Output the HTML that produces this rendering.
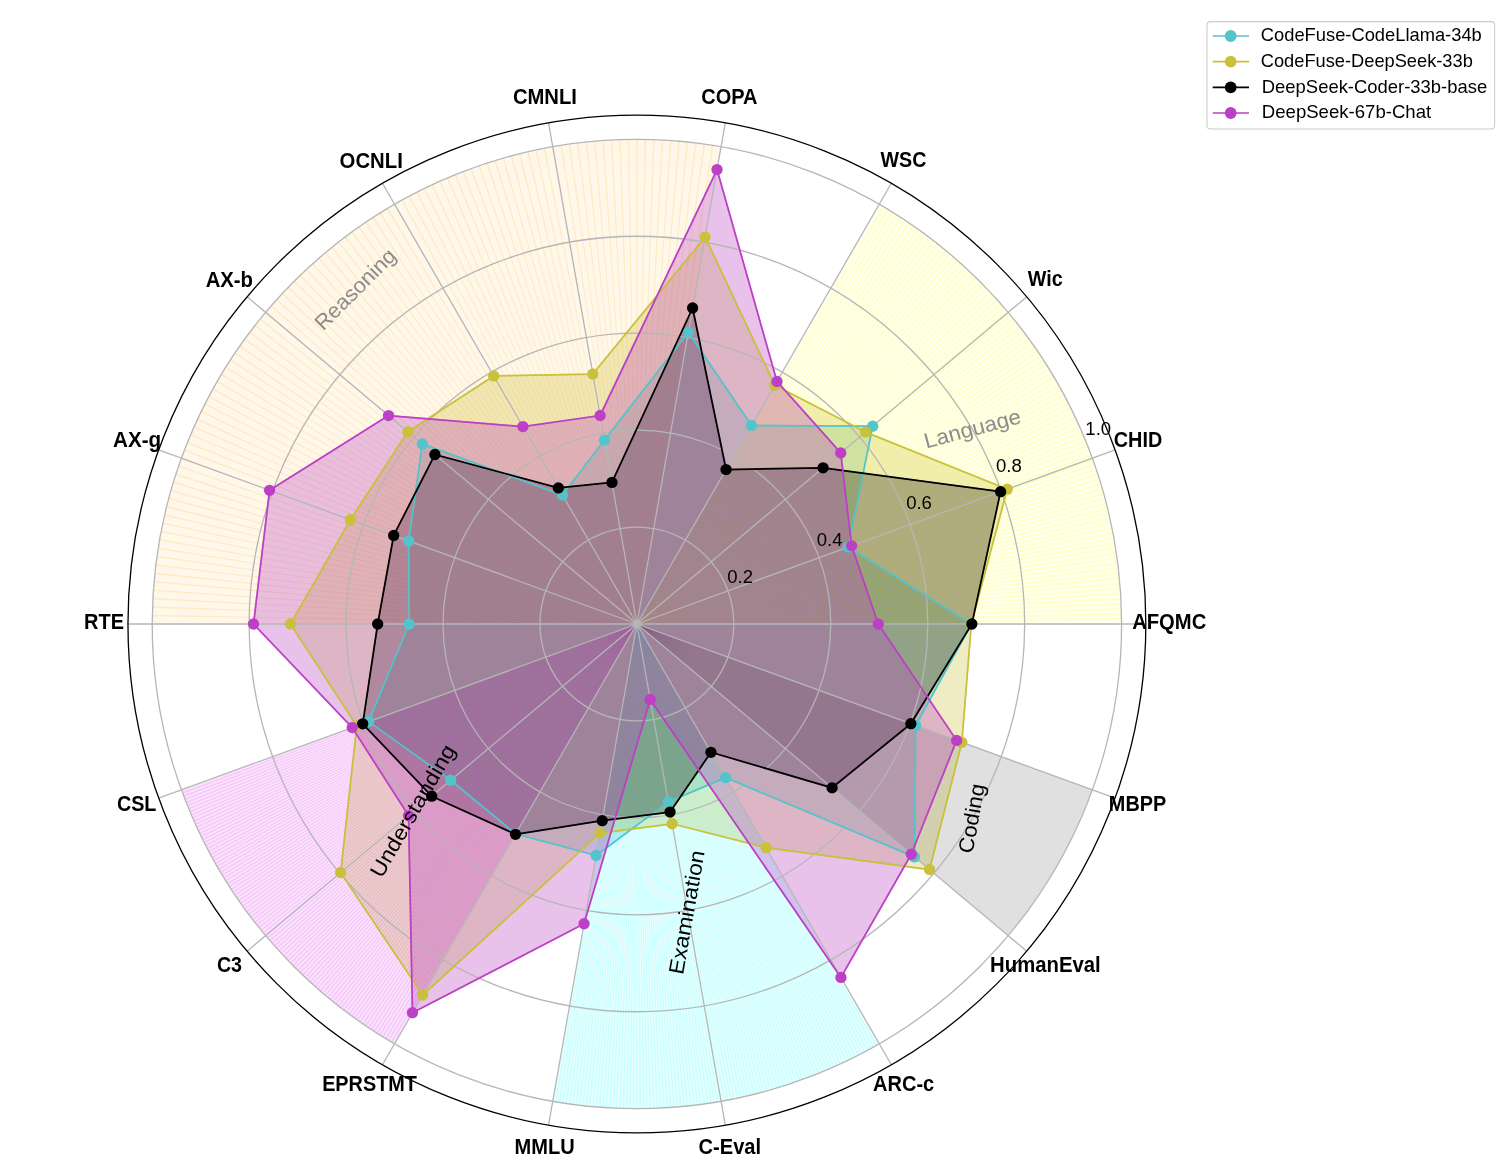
<!DOCTYPE html>
<html><head><meta charset="utf-8"><title>Radar chart</title>
<style>
html,body{margin:0;padding:0;background:#fff;}
body{width:1500px;height:1176px;overflow:hidden;font-family:"Liberation Sans",sans-serif;}
svg{display:block;will-change:transform;}
text{font-family:"Liberation Sans",sans-serif;}
.b{font-weight:bold;fill:#000;}
.r{font-weight:normal;}
</style></head><body>
<svg width="1500" height="1176" viewBox="0 0 1500 1176">
<rect width="1500" height="1176" fill="#fff"/>
<polygon points="971.34,624 848.24,547.08 872.68,426.16 751.53,425.45 688.33,332.35 604.47,440.08 562.47,495.09 422.29,443.92 408.71,540.95 409.09,624 368.63,721.64 450.69,780.25 515.72,833.88 596.08,855.51 668.26,801.86 725.6,777.63 914.45,856.89 915.65,725.46" fill="#54c4cb" fill-opacity="0.3" stroke="#54c4cb" stroke-opacity="0.3" stroke-width="1.4"/>
<polygon points="971.34,624 1007.2,489.22 865.62,432.08 774.8,385.16 705.13,237.07 592.82,374.02 493.67,375.92 407.81,431.77 350.41,519.73 290.48,624 356.79,725.95 340.6,872.62 422.66,995.07 600.03,833.07 672.12,823.77 766.07,847.73 929.49,869.51 961.88,742.28" fill="#c9c13c" fill-opacity="0.3" stroke="#c9c13c" stroke-opacity="0.3" stroke-width="1.4"/>
<defs>
<radialGradient id="g0" gradientUnits="userSpaceOnUse" cx="636.9" cy="624" r="60"><stop offset="0" stop-color="#ffff00" stop-opacity="0.54"/><stop offset="0.08" stop-color="#ffff00" stop-opacity="0.27"/><stop offset="0.17" stop-color="#ffff00" stop-opacity="0.13"/><stop offset="0.33" stop-color="#ffff00" stop-opacity="0.07"/><stop offset="0.67" stop-color="#ffff00" stop-opacity="0.02"/><stop offset="1" stop-color="#ffff00" stop-opacity="0"/></radialGradient>
<radialGradient id="g1" gradientUnits="userSpaceOnUse" cx="636.9" cy="624" r="60"><stop offset="0" stop-color="#ffa500" stop-opacity="0.27"/><stop offset="0.08" stop-color="#ffa500" stop-opacity="0.14"/><stop offset="0.17" stop-color="#ffa500" stop-opacity="0.07"/><stop offset="0.33" stop-color="#ffa500" stop-opacity="0.03"/><stop offset="0.67" stop-color="#ffa500" stop-opacity="0.01"/><stop offset="1" stop-color="#ffa500" stop-opacity="0"/></radialGradient>
<radialGradient id="g2" gradientUnits="userSpaceOnUse" cx="636.9" cy="624" r="60"><stop offset="0" stop-color="#d800ea" stop-opacity="0.9"/><stop offset="0.08" stop-color="#d800ea" stop-opacity="0.45"/><stop offset="0.17" stop-color="#d800ea" stop-opacity="0.22"/><stop offset="0.33" stop-color="#d800ea" stop-opacity="0.11"/><stop offset="0.67" stop-color="#d800ea" stop-opacity="0.04"/><stop offset="1" stop-color="#d800ea" stop-opacity="0"/></radialGradient>
<radialGradient id="g3" gradientUnits="userSpaceOnUse" cx="636.9" cy="624" r="60"><stop offset="0" stop-color="#00ffff" stop-opacity="0.9"/><stop offset="0.08" stop-color="#00ffff" stop-opacity="0.45"/><stop offset="0.17" stop-color="#00ffff" stop-opacity="0.22"/><stop offset="0.33" stop-color="#00ffff" stop-opacity="0.11"/><stop offset="0.67" stop-color="#00ffff" stop-opacity="0.04"/><stop offset="1" stop-color="#00ffff" stop-opacity="0"/></radialGradient>
<radialGradient id="g4" gradientUnits="userSpaceOnUse" cx="636.9" cy="624" r="60"><stop offset="0" stop-color="#3c3c3c" stop-opacity="0.9"/><stop offset="0.08" stop-color="#3c3c3c" stop-opacity="0.72"/><stop offset="0.17" stop-color="#3c3c3c" stop-opacity="0.35"/><stop offset="0.33" stop-color="#3c3c3c" stop-opacity="0.18"/><stop offset="0.67" stop-color="#3c3c3c" stop-opacity="0.06"/><stop offset="1" stop-color="#3c3c3c" stop-opacity="0"/></radialGradient>
</defs>
<path d="M636.9 624L1121.6 624A484.7 484.7 0 0 0 879.25 204.24Z" fill="#ffff00" fill-opacity="0.07"/>
<path d="M636.9 624L1121.58 619.99A484.7 484.7 0 0 0 1121.56 617.86ZM636.9 624L1121.51 614.91A484.7 484.7 0 0 0 1121.47 612.78ZM636.9 624L1121.39 609.84A484.7 484.7 0 0 0 1121.33 607.71ZM636.9 624L1121.22 604.77A484.7 484.7 0 0 0 1121.13 602.64ZM636.9 624L1120.99 599.7A484.7 484.7 0 0 0 1120.88 597.57ZM636.9 624L1120.71 594.63A484.7 484.7 0 0 0 1120.58 592.5ZM636.9 624L1120.38 589.56A484.7 484.7 0 0 0 1120.22 587.44ZM636.9 624L1119.99 584.5A484.7 484.7 0 0 0 1119.81 582.38ZM636.9 624L1119.55 579.45A484.7 484.7 0 0 0 1119.35 577.32ZM636.9 624L1119.06 574.4A484.7 484.7 0 0 0 1118.83 572.28ZM636.9 624L1118.51 569.35A484.7 484.7 0 0 0 1118.26 567.23ZM636.9 624L1117.91 564.31A484.7 484.7 0 0 0 1117.64 562.19ZM636.9 624L1117.26 559.27A484.7 484.7 0 0 0 1116.97 557.16ZM636.9 624L1116.55 554.25A484.7 484.7 0 0 0 1116.24 552.14ZM636.9 624L1115.8 549.23A484.7 484.7 0 0 0 1115.46 547.12ZM636.9 624L1114.99 544.22A484.7 484.7 0 0 0 1114.63 542.12ZM636.9 624L1114.13 539.22A484.7 484.7 0 0 0 1113.75 537.12ZM636.9 624L1113.21 534.22A484.7 484.7 0 0 0 1112.81 532.13ZM636.9 624L1112.25 529.24A484.7 484.7 0 0 0 1111.83 527.15ZM636.9 624L1111.23 524.27A484.7 484.7 0 0 0 1110.79 522.18ZM636.9 624L1110.16 519.31A484.7 484.7 0 0 0 1109.69 517.23ZM636.9 624L1109.04 514.36A484.7 484.7 0 0 0 1108.55 512.28ZM636.9 624L1107.86 509.42A484.7 484.7 0 0 0 1107.35 507.35ZM636.9 624L1106.64 504.49A484.7 484.7 0 0 0 1106.11 502.43ZM636.9 624L1105.36 499.58A484.7 484.7 0 0 0 1104.81 497.52ZM636.9 624L1104.03 494.68A484.7 484.7 0 0 0 1103.46 492.63ZM636.9 624L1102.65 489.8A484.7 484.7 0 0 0 1102.06 487.75ZM636.9 624L1101.22 484.93A484.7 484.7 0 0 0 1100.6 482.89ZM636.9 624L1099.74 480.07A484.7 484.7 0 0 0 1099.1 478.04ZM636.9 624L1098.21 475.23A484.7 484.7 0 0 0 1097.55 473.21ZM636.9 624L1096.62 470.41A484.7 484.7 0 0 0 1095.94 468.39ZM636.9 624L1094.99 465.61A484.7 484.7 0 0 0 1094.29 463.59ZM636.9 624L1093.3 460.82A484.7 484.7 0 0 0 1092.58 458.81ZM636.9 624L1091.57 456.05A484.7 484.7 0 0 0 1090.83 454.05ZM636.9 624L1089.79 451.29A484.7 484.7 0 0 0 1089.02 449.3ZM636.9 624L1087.95 446.56A484.7 484.7 0 0 0 1087.17 444.58ZM636.9 624L1086.07 441.85A484.7 484.7 0 0 0 1085.27 439.87ZM636.9 624L1084.14 437.15A484.7 484.7 0 0 0 1083.31 435.19ZM636.9 624L1082.16 432.48A484.7 484.7 0 0 0 1081.31 430.52ZM636.9 624L1080.13 427.83A484.7 484.7 0 0 0 1079.26 425.88ZM636.9 624L1078.05 423.2A484.7 484.7 0 0 0 1077.16 421.26ZM636.9 624L1075.92 418.59A484.7 484.7 0 0 0 1075.01 416.66ZM636.9 624L1073.75 414A484.7 484.7 0 0 0 1072.82 412.08ZM636.9 624L1071.52 409.44A484.7 484.7 0 0 0 1070.58 407.53ZM636.9 624L1069.25 404.9A484.7 484.7 0 0 0 1068.29 403ZM636.9 624L1066.94 400.39A484.7 484.7 0 0 0 1065.95 398.5ZM636.9 624L1064.57 395.89A484.7 484.7 0 0 0 1063.56 394.02ZM636.9 624L1062.16 391.43A484.7 484.7 0 0 0 1061.13 389.56ZM636.9 624L1059.7 386.99A484.7 484.7 0 0 0 1058.65 385.13ZM636.9 624L1057.19 382.57A484.7 484.7 0 0 0 1056.13 380.73ZM636.9 624L1054.64 378.19A484.7 484.7 0 0 0 1053.56 376.35ZM636.9 624L1052.05 373.82A484.7 484.7 0 0 0 1050.94 372ZM636.9 624L1049.4 369.49A484.7 484.7 0 0 0 1048.28 367.68ZM636.9 624L1046.72 365.19A484.7 484.7 0 0 0 1045.57 363.39ZM636.9 624L1043.98 360.91A484.7 484.7 0 0 0 1042.82 359.12ZM636.9 624L1041.21 356.66A484.7 484.7 0 0 0 1040.03 354.88ZM636.9 624L1038.38 352.44A484.7 484.7 0 0 0 1037.19 350.68ZM636.9 624L1035.52 348.25A484.7 484.7 0 0 0 1034.3 346.5ZM636.9 624L1032.61 344.09A484.7 484.7 0 0 0 1031.37 342.35ZM636.9 624L1029.66 339.96A484.7 484.7 0 0 0 1028.4 338.24ZM636.9 624L1026.66 335.87A484.7 484.7 0 0 0 1025.39 334.15ZM636.9 624L1023.62 331.8A484.7 484.7 0 0 0 1022.33 330.1ZM636.9 624L1020.54 327.77A484.7 484.7 0 0 0 1019.23 326.08ZM636.9 624L1017.42 323.77A484.7 484.7 0 0 0 1016.09 322.1ZM636.9 624L1014.25 319.8A484.7 484.7 0 0 0 1012.91 318.14ZM636.9 624L1011.05 315.86A484.7 484.7 0 0 0 1009.69 314.22ZM636.9 624L1007.8 311.96A484.7 484.7 0 0 0 1006.42 310.33ZM636.9 624L1004.51 308.09A484.7 484.7 0 0 0 1003.12 306.48ZM636.9 624L1001.18 304.26A484.7 484.7 0 0 0 999.77 302.66ZM636.9 624L997.81 300.47A484.7 484.7 0 0 0 996.39 298.88ZM636.9 624L994.41 296.7A484.7 484.7 0 0 0 992.96 295.13ZM636.9 624L990.96 292.98A484.7 484.7 0 0 0 989.5 291.42ZM636.9 624L987.47 289.29A484.7 484.7 0 0 0 986 287.75ZM636.9 624L983.95 285.64A484.7 484.7 0 0 0 982.46 284.11ZM636.9 624L980.39 282.02A484.7 484.7 0 0 0 978.88 280.51ZM636.9 624L976.79 278.44A484.7 484.7 0 0 0 975.26 276.95ZM636.9 624L973.15 274.9A484.7 484.7 0 0 0 971.61 273.43ZM636.9 624L969.48 271.4A484.7 484.7 0 0 0 967.92 269.94ZM636.9 624L965.77 267.94A484.7 484.7 0 0 0 964.2 266.49ZM636.9 624L962.02 264.51A484.7 484.7 0 0 0 960.43 263.09ZM636.9 624L958.24 261.13A484.7 484.7 0 0 0 956.64 259.72ZM636.9 624L954.42 257.78A484.7 484.7 0 0 0 952.81 256.39ZM636.9 624L950.57 254.48A484.7 484.7 0 0 0 948.94 253.1ZM636.9 624L946.68 251.21A484.7 484.7 0 0 0 945.04 249.85ZM636.9 624L942.76 247.99A484.7 484.7 0 0 0 941.1 246.65ZM636.9 624L938.8 244.81A484.7 484.7 0 0 0 937.13 243.48ZM636.9 624L934.82 241.67A484.7 484.7 0 0 0 933.13 240.36ZM636.9 624L930.8 238.57A484.7 484.7 0 0 0 929.1 237.28ZM636.9 624L926.75 235.51A484.7 484.7 0 0 0 925.03 234.24ZM636.9 624L922.66 232.5A484.7 484.7 0 0 0 920.94 231.24ZM636.9 624L918.55 229.53A484.7 484.7 0 0 0 916.81 228.29ZM636.9 624L914.4 226.6A484.7 484.7 0 0 0 912.65 225.38ZM636.9 624L910.22 223.71A484.7 484.7 0 0 0 908.46 222.52ZM636.9 624L906.02 220.87A484.7 484.7 0 0 0 904.24 219.69ZM636.9 624L901.78 218.08A484.7 484.7 0 0 0 899.99 216.92ZM636.9 624L897.51 215.33A484.7 484.7 0 0 0 895.71 214.18ZM636.9 624L893.22 212.62A484.7 484.7 0 0 0 891.41 211.5ZM636.9 624L888.9 209.96A484.7 484.7 0 0 0 887.08 208.85ZM636.9 624L884.55 207.34A484.7 484.7 0 0 0 882.71 206.26Z" fill="#ffff00" fill-opacity="0.15"/>
<path d="M636.9 624L696.9 624A60 60 0 0 0 666.9 572.04Z" fill="url(#g0)"/>
<path d="M636.9 624L721.07 146.66A484.7 484.7 0 0 0 152.2 624Z" fill="#ffa500" fill-opacity="0.083"/>
<path d="M636.9 624L713.52 145.39A484.7 484.7 0 0 0 711.93 145.14ZM636.9 624L705.15 144.13A484.7 484.7 0 0 0 703.56 143.91ZM636.9 624L696.77 143.01A484.7 484.7 0 0 0 695.17 142.82ZM636.9 624L688.36 142.04A484.7 484.7 0 0 0 686.77 141.87ZM636.9 624L679.94 141.22A484.7 484.7 0 0 0 678.34 141.08ZM636.9 624L671.51 140.54A484.7 484.7 0 0 0 669.91 140.43ZM636.9 624L663.07 140.01A484.7 484.7 0 0 0 661.46 139.92ZM636.9 624L654.62 139.62A484.7 484.7 0 0 0 653.01 139.57ZM636.9 624L646.16 139.39A484.7 484.7 0 0 0 644.56 139.36ZM636.9 624L637.7 139.3A484.7 484.7 0 0 0 636.1 139.3ZM636.9 624L629.24 139.36A484.7 484.7 0 0 0 627.64 139.39ZM636.9 624L620.79 139.57A484.7 484.7 0 0 0 619.18 139.62ZM636.9 624L612.34 139.92A484.7 484.7 0 0 0 610.73 140.01ZM636.9 624L603.89 140.43A484.7 484.7 0 0 0 602.29 140.54ZM636.9 624L595.46 141.08A484.7 484.7 0 0 0 593.86 141.22ZM636.9 624L587.03 141.87A484.7 484.7 0 0 0 585.44 142.04ZM636.9 624L578.63 142.82A484.7 484.7 0 0 0 577.03 143.01ZM636.9 624L570.24 143.91A484.7 484.7 0 0 0 568.65 144.13ZM636.9 624L561.87 145.14A484.7 484.7 0 0 0 560.28 145.39ZM636.9 624L553.52 146.52A484.7 484.7 0 0 0 551.94 146.8ZM636.9 624L545.2 148.05A484.7 484.7 0 0 0 543.63 148.36ZM636.9 624L536.91 149.73A484.7 484.7 0 0 0 535.34 150.06ZM636.9 624L528.65 151.54A484.7 484.7 0 0 0 527.08 151.9ZM636.9 624L520.42 153.5A484.7 484.7 0 0 0 518.86 153.89ZM636.9 624L512.23 155.61A484.7 484.7 0 0 0 510.67 156.02ZM636.9 624L504.07 157.86A484.7 484.7 0 0 0 502.53 158.3ZM636.9 624L495.96 160.24A484.7 484.7 0 0 0 494.42 160.71ZM636.9 624L487.88 162.78A484.7 484.7 0 0 0 486.36 163.27ZM636.9 624L479.86 165.45A484.7 484.7 0 0 0 478.34 165.97ZM636.9 624L471.88 168.26A484.7 484.7 0 0 0 470.37 168.81ZM636.9 624L463.95 171.21A484.7 484.7 0 0 0 462.45 171.78ZM636.9 624L456.07 174.29A484.7 484.7 0 0 0 454.58 174.9ZM636.9 624L448.25 177.52A484.7 484.7 0 0 0 446.77 178.15ZM636.9 624L440.49 180.88A484.7 484.7 0 0 0 439.02 181.53ZM636.9 624L432.79 184.37A484.7 484.7 0 0 0 431.33 185.05ZM636.9 624L425.14 188A484.7 484.7 0 0 0 423.7 188.71ZM636.9 624L417.57 191.76A484.7 484.7 0 0 0 416.14 192.49ZM636.9 624L410.06 195.66A484.7 484.7 0 0 0 408.64 196.41ZM636.9 624L402.62 199.68A484.7 484.7 0 0 0 401.21 200.46ZM636.9 624L395.25 203.84A484.7 484.7 0 0 0 393.85 204.64ZM636.9 624L387.95 208.12A484.7 484.7 0 0 0 386.57 208.95ZM636.9 624L380.73 212.53A484.7 484.7 0 0 0 379.37 213.38ZM636.9 624L373.59 217.06A484.7 484.7 0 0 0 372.24 217.93ZM636.9 624L366.53 221.72A484.7 484.7 0 0 0 365.19 222.62ZM636.9 624L359.55 226.5A484.7 484.7 0 0 0 358.23 227.42ZM636.9 624L352.65 231.4A484.7 484.7 0 0 0 351.35 232.34ZM636.9 624L345.84 236.42A484.7 484.7 0 0 0 344.56 237.39ZM636.9 624L339.12 241.56A484.7 484.7 0 0 0 337.86 242.55ZM636.9 624L332.49 246.81A484.7 484.7 0 0 0 331.24 247.82ZM636.9 624L325.96 252.18A484.7 484.7 0 0 0 324.73 253.22ZM636.9 624L319.52 257.67A484.7 484.7 0 0 0 318.3 258.72ZM636.9 624L313.17 263.26A484.7 484.7 0 0 0 311.98 264.34ZM636.9 624L306.92 268.97A484.7 484.7 0 0 0 305.75 270.06ZM636.9 624L300.78 274.78A484.7 484.7 0 0 0 299.62 275.89ZM636.9 624L294.73 280.7A484.7 484.7 0 0 0 293.6 281.83ZM636.9 624L288.79 286.72A484.7 484.7 0 0 0 287.68 287.88ZM636.9 624L282.96 292.85A484.7 484.7 0 0 0 281.87 294.02ZM636.9 624L277.24 299.08A484.7 484.7 0 0 0 276.16 300.27ZM636.9 624L271.62 305.4A484.7 484.7 0 0 0 270.57 306.62ZM636.9 624L266.12 311.83A484.7 484.7 0 0 0 265.08 313.06ZM636.9 624L260.72 318.34A484.7 484.7 0 0 0 259.71 319.59ZM636.9 624L255.45 324.96A484.7 484.7 0 0 0 254.46 326.22ZM636.9 624L250.29 331.66A484.7 484.7 0 0 0 249.32 332.94ZM636.9 624L245.24 338.45A484.7 484.7 0 0 0 244.3 339.75ZM636.9 624L240.32 345.33A484.7 484.7 0 0 0 239.4 346.65ZM636.9 624L235.52 352.29A484.7 484.7 0 0 0 234.62 353.63ZM636.9 624L230.83 359.34A484.7 484.7 0 0 0 229.96 360.69ZM636.9 624L226.28 366.47A484.7 484.7 0 0 0 225.43 367.83ZM636.9 624L221.85 373.67A484.7 484.7 0 0 0 221.02 375.05ZM636.9 624L217.54 380.95A484.7 484.7 0 0 0 216.74 382.35ZM636.9 624L213.36 388.31A484.7 484.7 0 0 0 212.58 389.72ZM636.9 624L209.31 395.74A484.7 484.7 0 0 0 208.56 397.16ZM636.9 624L205.39 403.24A484.7 484.7 0 0 0 204.66 404.67ZM636.9 624L201.61 410.8A484.7 484.7 0 0 0 200.9 412.24ZM636.9 624L197.95 418.43A484.7 484.7 0 0 0 197.27 419.89ZM636.9 624L194.43 426.12A484.7 484.7 0 0 0 193.78 427.59ZM636.9 624L191.05 433.87A484.7 484.7 0 0 0 190.42 435.35ZM636.9 624L187.8 441.68A484.7 484.7 0 0 0 187.19 443.17ZM636.9 624L184.68 449.55A484.7 484.7 0 0 0 184.11 451.05ZM636.9 624L181.71 457.47A484.7 484.7 0 0 0 181.16 458.98ZM636.9 624L178.87 465.44A484.7 484.7 0 0 0 178.35 466.96ZM636.9 624L176.17 473.46A484.7 484.7 0 0 0 175.68 474.98ZM636.9 624L173.61 481.52A484.7 484.7 0 0 0 173.14 483.06ZM636.9 624L171.2 489.63A484.7 484.7 0 0 0 170.76 491.17ZM636.9 624L168.92 497.77A484.7 484.7 0 0 0 168.51 499.33ZM636.9 624L166.79 505.96A484.7 484.7 0 0 0 166.4 507.52ZM636.9 624L164.8 514.18A484.7 484.7 0 0 0 164.44 515.75ZM636.9 624L162.96 522.44A484.7 484.7 0 0 0 162.63 524.01ZM636.9 624L161.26 530.73A484.7 484.7 0 0 0 160.95 532.3ZM636.9 624L159.7 539.04A484.7 484.7 0 0 0 159.42 540.62ZM636.9 624L158.29 547.38A484.7 484.7 0 0 0 158.04 548.97ZM636.9 624L157.03 555.75A484.7 484.7 0 0 0 156.81 557.34ZM636.9 624L155.91 564.13A484.7 484.7 0 0 0 155.72 565.73ZM636.9 624L154.94 572.54A484.7 484.7 0 0 0 154.77 574.13ZM636.9 624L154.12 580.96A484.7 484.7 0 0 0 153.98 582.56ZM636.9 624L153.44 589.39A484.7 484.7 0 0 0 153.33 590.99ZM636.9 624L152.91 597.83A484.7 484.7 0 0 0 152.82 599.44ZM636.9 624L152.52 606.28A484.7 484.7 0 0 0 152.47 607.89ZM636.9 624L152.29 614.74A484.7 484.7 0 0 0 152.26 616.34Z" fill="#ffa500" fill-opacity="0.16"/>
<path d="M636.9 624L647.32 564.91A60 60 0 0 0 576.9 624Z" fill="url(#g1)"/>
<path d="M636.9 624L181.43 789.78A484.7 484.7 0 0 0 394.55 1043.76Z" fill="#d800ea" fill-opacity="0.105"/>
<path d="M636.9 624L182.31 792.16A484.7 484.7 0 0 0 182.89 793.75ZM636.9 624L183.49 795.33A484.7 484.7 0 0 0 184.09 796.91ZM636.9 624L184.7 798.49A484.7 484.7 0 0 0 185.31 800.07ZM636.9 624L185.93 801.64A484.7 484.7 0 0 0 186.55 803.22ZM636.9 624L187.18 804.79A484.7 484.7 0 0 0 187.81 806.36ZM636.9 624L188.45 807.92A484.7 484.7 0 0 0 189.1 809.49ZM636.9 624L189.75 811.05A484.7 484.7 0 0 0 190.4 812.61ZM636.9 624L191.06 814.17A484.7 484.7 0 0 0 191.73 815.72ZM636.9 624L192.4 817.27A484.7 484.7 0 0 0 193.08 818.82ZM636.9 624L193.76 820.37A484.7 484.7 0 0 0 194.45 821.92ZM636.9 624L195.14 823.46A484.7 484.7 0 0 0 195.84 825ZM636.9 624L196.55 826.54A484.7 484.7 0 0 0 197.26 828.08ZM636.9 624L197.97 829.61A484.7 484.7 0 0 0 198.69 831.14ZM636.9 624L199.42 832.67A484.7 484.7 0 0 0 200.15 834.19ZM636.9 624L200.88 835.72A484.7 484.7 0 0 0 201.63 837.24ZM636.9 624L202.37 838.76A484.7 484.7 0 0 0 203.13 840.27ZM636.9 624L203.88 841.78A484.7 484.7 0 0 0 204.65 843.3ZM636.9 624L205.41 844.8A484.7 484.7 0 0 0 206.19 846.31ZM636.9 624L206.97 847.81A484.7 484.7 0 0 0 207.75 849.31ZM636.9 624L208.54 850.81A484.7 484.7 0 0 0 209.33 852.3ZM636.9 624L210.13 853.79A484.7 484.7 0 0 0 210.94 855.28ZM636.9 624L211.75 856.76A484.7 484.7 0 0 0 212.56 858.25ZM636.9 624L213.38 859.73A484.7 484.7 0 0 0 214.21 861.2ZM636.9 624L215.04 862.68A484.7 484.7 0 0 0 215.87 864.15ZM636.9 624L216.72 865.62A484.7 484.7 0 0 0 217.56 867.08ZM636.9 624L218.41 868.54A484.7 484.7 0 0 0 219.27 870ZM636.9 624L220.13 871.46A484.7 484.7 0 0 0 221 872.91ZM636.9 624L221.87 874.36A484.7 484.7 0 0 0 222.74 875.81ZM636.9 624L223.63 877.26A484.7 484.7 0 0 0 224.51 878.7ZM636.9 624L225.4 880.13A484.7 484.7 0 0 0 226.3 881.57ZM636.9 624L227.2 883A484.7 484.7 0 0 0 228.11 884.43ZM636.9 624L229.02 885.85A484.7 484.7 0 0 0 229.94 887.28ZM636.9 624L230.86 888.7A484.7 484.7 0 0 0 231.78 890.11ZM636.9 624L232.72 891.52A484.7 484.7 0 0 0 233.65 892.93ZM636.9 624L234.59 894.34A484.7 484.7 0 0 0 235.54 895.74ZM636.9 624L236.49 897.14A484.7 484.7 0 0 0 237.45 898.54ZM636.9 624L238.41 899.93A484.7 484.7 0 0 0 239.37 901.32ZM636.9 624L240.34 902.71A484.7 484.7 0 0 0 241.32 904.09ZM636.9 624L242.3 905.47A484.7 484.7 0 0 0 243.28 906.84ZM636.9 624L244.27 908.21A484.7 484.7 0 0 0 245.27 909.58ZM636.9 624L246.27 910.95A484.7 484.7 0 0 0 247.27 912.31ZM636.9 624L248.28 913.67A484.7 484.7 0 0 0 249.29 915.02ZM636.9 624L250.31 916.37A484.7 484.7 0 0 0 251.33 917.72ZM636.9 624L252.36 919.07A484.7 484.7 0 0 0 253.39 920.41ZM636.9 624L254.43 921.74A484.7 484.7 0 0 0 255.47 923.08ZM636.9 624L256.52 924.41A484.7 484.7 0 0 0 257.57 925.73ZM636.9 624L258.63 927.06A484.7 484.7 0 0 0 259.69 928.37ZM636.9 624L260.75 929.69A484.7 484.7 0 0 0 261.82 931ZM636.9 624L262.89 932.31A484.7 484.7 0 0 0 263.97 933.61ZM636.9 624L265.06 934.91A484.7 484.7 0 0 0 266.14 936.21ZM636.9 624L267.23 937.5A484.7 484.7 0 0 0 268.33 938.79ZM636.9 624L269.43 940.07A484.7 484.7 0 0 0 270.54 941.35ZM636.9 624L271.65 942.63A484.7 484.7 0 0 0 272.76 943.9ZM636.9 624L273.88 945.17A484.7 484.7 0 0 0 275 946.44ZM636.9 624L276.13 947.7A484.7 484.7 0 0 0 277.26 948.96ZM636.9 624L278.4 950.21A484.7 484.7 0 0 0 279.54 951.46ZM636.9 624L280.69 952.7A484.7 484.7 0 0 0 281.84 953.95ZM636.9 624L282.99 955.18A484.7 484.7 0 0 0 284.15 956.42ZM636.9 624L285.31 957.65A484.7 484.7 0 0 0 286.48 958.87ZM636.9 624L287.65 960.09A484.7 484.7 0 0 0 288.82 961.31ZM636.9 624L290 962.52A484.7 484.7 0 0 0 291.19 963.73ZM636.9 624L292.38 964.94A484.7 484.7 0 0 0 293.57 966.14ZM636.9 624L294.76 967.33A484.7 484.7 0 0 0 295.96 968.52ZM636.9 624L297.17 969.71A484.7 484.7 0 0 0 298.38 970.9ZM636.9 624L299.59 972.08A484.7 484.7 0 0 0 300.81 973.25ZM636.9 624L302.03 974.42A484.7 484.7 0 0 0 303.25 975.59ZM636.9 624L304.48 976.75A484.7 484.7 0 0 0 305.72 977.91ZM636.9 624L306.95 979.06A484.7 484.7 0 0 0 308.2 980.21ZM636.9 624L309.44 981.36A484.7 484.7 0 0 0 310.69 982.5ZM636.9 624L311.94 983.64A484.7 484.7 0 0 0 313.2 984.77ZM636.9 624L314.46 985.9A484.7 484.7 0 0 0 315.73 987.02ZM636.9 624L317 988.14A484.7 484.7 0 0 0 318.27 989.25ZM636.9 624L319.55 990.36A484.7 484.7 0 0 0 320.83 991.47ZM636.9 624L322.11 992.57A484.7 484.7 0 0 0 323.4 993.67ZM636.9 624L324.69 994.76A484.7 484.7 0 0 0 325.99 995.84ZM636.9 624L327.29 996.93A484.7 484.7 0 0 0 328.59 998.01ZM636.9 624L329.9 999.08A484.7 484.7 0 0 0 331.21 1000.15ZM636.9 624L332.53 1001.21A484.7 484.7 0 0 0 333.84 1002.27ZM636.9 624L335.17 1003.33A484.7 484.7 0 0 0 336.49 1004.38ZM636.9 624L337.82 1005.43A484.7 484.7 0 0 0 339.16 1006.47ZM636.9 624L340.49 1007.51A484.7 484.7 0 0 0 341.83 1008.54ZM636.9 624L343.18 1009.57A484.7 484.7 0 0 0 344.53 1010.59ZM636.9 624L345.88 1011.61A484.7 484.7 0 0 0 347.23 1012.62ZM636.9 624L348.59 1013.63A484.7 484.7 0 0 0 349.95 1014.63ZM636.9 624L351.32 1015.63A484.7 484.7 0 0 0 352.69 1016.63ZM636.9 624L354.06 1017.62A484.7 484.7 0 0 0 355.43 1018.6ZM636.9 624L356.81 1019.58A484.7 484.7 0 0 0 358.19 1020.56ZM636.9 624L359.58 1021.53A484.7 484.7 0 0 0 360.97 1022.49ZM636.9 624L362.36 1023.45A484.7 484.7 0 0 0 363.76 1024.41ZM636.9 624L365.16 1025.36A484.7 484.7 0 0 0 366.56 1026.31ZM636.9 624L367.97 1027.25A484.7 484.7 0 0 0 369.38 1028.18ZM636.9 624L370.79 1029.12A484.7 484.7 0 0 0 372.2 1030.04ZM636.9 624L373.62 1030.96A484.7 484.7 0 0 0 375.05 1031.88ZM636.9 624L376.47 1032.79A484.7 484.7 0 0 0 377.9 1033.7ZM636.9 624L379.33 1034.6A484.7 484.7 0 0 0 380.77 1035.5ZM636.9 624L382.2 1036.39A484.7 484.7 0 0 0 383.64 1037.27ZM636.9 624L385.09 1038.16A484.7 484.7 0 0 0 386.54 1039.03ZM636.9 624L387.99 1039.9A484.7 484.7 0 0 0 389.44 1040.77ZM636.9 624L390.9 1041.63A484.7 484.7 0 0 0 392.36 1042.49Z" fill="#d800ea" fill-opacity="0.12"/>
<path d="M636.9 624L580.52 644.52A60 60 0 0 0 606.9 675.96Z" fill="url(#g2)"/>
<path d="M636.9 624L552.73 1101.34A484.7 484.7 0 0 0 879.25 1043.76Z" fill="#00ffff" fill-opacity="0.09"/>
<path d="M636.9 624L555.23 1101.77A484.7 484.7 0 0 0 556.9 1102.05ZM636.9 624L558.57 1102.33A484.7 484.7 0 0 0 560.24 1102.6ZM636.9 624L561.91 1102.86A484.7 484.7 0 0 0 563.58 1103.12ZM636.9 624L565.26 1103.38A484.7 484.7 0 0 0 566.93 1103.62ZM636.9 624L568.61 1103.86A484.7 484.7 0 0 0 570.28 1104.1ZM636.9 624L571.96 1104.33A484.7 484.7 0 0 0 573.63 1104.55ZM636.9 624L575.31 1104.77A484.7 484.7 0 0 0 576.99 1104.98ZM636.9 624L578.67 1105.19A484.7 484.7 0 0 0 580.35 1105.39ZM636.9 624L582.03 1105.58A484.7 484.7 0 0 0 583.71 1105.77ZM636.9 624L585.39 1105.96A484.7 484.7 0 0 0 587.08 1106.13ZM636.9 624L588.76 1106.3A484.7 484.7 0 0 0 590.44 1106.47ZM636.9 624L592.13 1106.63A484.7 484.7 0 0 0 593.81 1106.78ZM636.9 624L595.5 1106.93A484.7 484.7 0 0 0 597.18 1107.07ZM636.9 624L598.87 1107.21A484.7 484.7 0 0 0 600.56 1107.34ZM636.9 624L602.25 1107.46A484.7 484.7 0 0 0 603.93 1107.58ZM636.9 624L605.62 1107.69A484.7 484.7 0 0 0 607.31 1107.8ZM636.9 624L609 1107.9A484.7 484.7 0 0 0 610.69 1107.99ZM636.9 624L612.38 1108.08A484.7 484.7 0 0 0 614.07 1108.16ZM636.9 624L615.76 1108.24A484.7 484.7 0 0 0 617.45 1108.31ZM636.9 624L619.14 1108.37A484.7 484.7 0 0 0 620.83 1108.43ZM636.9 624L622.52 1108.49A484.7 484.7 0 0 0 624.21 1108.53ZM636.9 624L625.9 1108.58A484.7 484.7 0 0 0 627.59 1108.61ZM636.9 624L629.29 1108.64A484.7 484.7 0 0 0 630.98 1108.66ZM636.9 624L632.67 1108.68A484.7 484.7 0 0 0 634.36 1108.69ZM636.9 624L636.05 1108.7A484.7 484.7 0 0 0 637.75 1108.7ZM636.9 624L639.44 1108.69A484.7 484.7 0 0 0 641.13 1108.68ZM636.9 624L642.82 1108.66A484.7 484.7 0 0 0 644.51 1108.64ZM636.9 624L646.21 1108.61A484.7 484.7 0 0 0 647.9 1108.58ZM636.9 624L649.59 1108.53A484.7 484.7 0 0 0 651.28 1108.49ZM636.9 624L652.97 1108.43A484.7 484.7 0 0 0 654.66 1108.37ZM636.9 624L656.35 1108.31A484.7 484.7 0 0 0 658.04 1108.24ZM636.9 624L659.73 1108.16A484.7 484.7 0 0 0 661.42 1108.08ZM636.9 624L663.11 1107.99A484.7 484.7 0 0 0 664.8 1107.9ZM636.9 624L666.49 1107.8A484.7 484.7 0 0 0 668.18 1107.69ZM636.9 624L669.87 1107.58A484.7 484.7 0 0 0 671.55 1107.46ZM636.9 624L673.24 1107.34A484.7 484.7 0 0 0 674.93 1107.21ZM636.9 624L676.62 1107.07A484.7 484.7 0 0 0 678.3 1106.93ZM636.9 624L679.99 1106.78A484.7 484.7 0 0 0 681.67 1106.63ZM636.9 624L683.36 1106.47A484.7 484.7 0 0 0 685.04 1106.3ZM636.9 624L686.72 1106.13A484.7 484.7 0 0 0 688.41 1105.96ZM636.9 624L690.09 1105.77A484.7 484.7 0 0 0 691.77 1105.58ZM636.9 624L693.45 1105.39A484.7 484.7 0 0 0 695.13 1105.19ZM636.9 624L696.81 1104.98A484.7 484.7 0 0 0 698.49 1104.77ZM636.9 624L700.17 1104.55A484.7 484.7 0 0 0 701.84 1104.33ZM636.9 624L703.52 1104.1A484.7 484.7 0 0 0 705.19 1103.86ZM636.9 624L706.87 1103.62A484.7 484.7 0 0 0 708.54 1103.38ZM636.9 624L710.22 1103.12A484.7 484.7 0 0 0 711.89 1102.86ZM636.9 624L713.56 1102.6A484.7 484.7 0 0 0 715.23 1102.33ZM636.9 624L716.9 1102.05A484.7 484.7 0 0 0 718.57 1101.77ZM636.9 624L720.23 1101.48A484.7 484.7 0 0 0 721.9 1101.19ZM636.9 624L723.57 1100.89A484.7 484.7 0 0 0 725.23 1100.58ZM636.9 624L726.89 1100.27A484.7 484.7 0 0 0 728.55 1099.96ZM636.9 624L730.22 1099.63A484.7 484.7 0 0 0 731.88 1099.3ZM636.9 624L733.53 1098.97A484.7 484.7 0 0 0 735.19 1098.63ZM636.9 624L736.85 1098.28A484.7 484.7 0 0 0 738.5 1097.93ZM636.9 624L740.16 1097.57A484.7 484.7 0 0 0 741.81 1097.21ZM636.9 624L743.46 1096.84A484.7 484.7 0 0 0 745.11 1096.47ZM636.9 624L746.76 1096.09A484.7 484.7 0 0 0 748.41 1095.7ZM636.9 624L750.05 1095.31A484.7 484.7 0 0 0 751.7 1094.91ZM636.9 624L753.34 1094.51A484.7 484.7 0 0 0 754.98 1094.1ZM636.9 624L756.62 1093.68A484.7 484.7 0 0 0 758.26 1093.26ZM636.9 624L759.9 1092.83A484.7 484.7 0 0 0 761.53 1092.4ZM636.9 624L763.17 1091.96A484.7 484.7 0 0 0 764.8 1091.52ZM636.9 624L766.43 1091.07A484.7 484.7 0 0 0 768.06 1090.62ZM636.9 624L769.69 1090.16A484.7 484.7 0 0 0 771.31 1089.69ZM636.9 624L772.94 1089.22A484.7 484.7 0 0 0 774.56 1088.74ZM636.9 624L776.18 1088.26A484.7 484.7 0 0 0 777.8 1087.77ZM636.9 624L779.42 1087.27A484.7 484.7 0 0 0 781.04 1086.77ZM636.9 624L782.65 1086.27A484.7 484.7 0 0 0 784.26 1085.76ZM636.9 624L785.88 1085.24A484.7 484.7 0 0 0 787.48 1084.71ZM636.9 624L789.09 1084.19A484.7 484.7 0 0 0 790.7 1083.65ZM636.9 624L792.3 1083.11A484.7 484.7 0 0 0 793.9 1082.57ZM636.9 624L795.5 1082.02A484.7 484.7 0 0 0 797.1 1081.46ZM636.9 624L798.7 1080.9A484.7 484.7 0 0 0 800.29 1080.33ZM636.9 624L801.88 1079.76A484.7 484.7 0 0 0 803.47 1079.18ZM636.9 624L805.06 1078.59A484.7 484.7 0 0 0 806.65 1078.01ZM636.9 624L808.23 1077.41A484.7 484.7 0 0 0 809.81 1076.81ZM636.9 624L811.39 1076.2A484.7 484.7 0 0 0 812.97 1075.59ZM636.9 624L814.54 1074.97A484.7 484.7 0 0 0 816.12 1074.35ZM636.9 624L817.69 1073.72A484.7 484.7 0 0 0 819.26 1073.09ZM636.9 624L820.82 1072.45A484.7 484.7 0 0 0 822.39 1071.8ZM636.9 624L823.95 1071.15A484.7 484.7 0 0 0 825.51 1070.5ZM636.9 624L827.07 1069.84A484.7 484.7 0 0 0 828.62 1069.17ZM636.9 624L830.17 1068.5A484.7 484.7 0 0 0 831.72 1067.82ZM636.9 624L833.27 1067.14A484.7 484.7 0 0 0 834.82 1066.45ZM636.9 624L836.36 1065.76A484.7 484.7 0 0 0 837.9 1065.06ZM636.9 624L839.44 1064.35A484.7 484.7 0 0 0 840.98 1063.64ZM636.9 624L842.51 1062.93A484.7 484.7 0 0 0 844.04 1062.21ZM636.9 624L845.57 1061.48A484.7 484.7 0 0 0 847.09 1060.75ZM636.9 624L848.62 1060.02A484.7 484.7 0 0 0 850.14 1059.27ZM636.9 624L851.66 1058.53A484.7 484.7 0 0 0 853.17 1057.77ZM636.9 624L854.68 1057.02A484.7 484.7 0 0 0 856.2 1056.25ZM636.9 624L857.7 1055.49A484.7 484.7 0 0 0 859.21 1054.71ZM636.9 624L860.71 1053.93A484.7 484.7 0 0 0 862.21 1053.15ZM636.9 624L863.71 1052.36A484.7 484.7 0 0 0 865.2 1051.57ZM636.9 624L866.69 1050.77A484.7 484.7 0 0 0 868.18 1049.96ZM636.9 624L869.66 1049.15A484.7 484.7 0 0 0 871.15 1048.34ZM636.9 624L872.63 1047.52A484.7 484.7 0 0 0 874.1 1046.69ZM636.9 624L875.58 1045.86A484.7 484.7 0 0 0 877.05 1045.03Z" fill="#00ffff" fill-opacity="0.13"/>
<path d="M636.9 624L626.48 683.09A60 60 0 0 0 666.9 675.96Z" fill="url(#g3)"/>
<path d="M636.9 624L1008.2 935.56A484.7 484.7 0 0 0 1092.37 789.78Z" fill="#3c3c3c" fill-opacity="0.16"/>
<path d="M636.9 624L682.86 662.57A60 60 0 0 0 693.28 644.52Z" fill="url(#g4)"/>
<polygon points="971.83,624 1000.59,491.63 823.07,467.78 726.08,469.53 692.62,308 611.94,482.42 558.35,487.95 434.91,454.51 393.68,535.47 377.68,624 362.71,723.8 431.68,796.2 515.48,834.3 602.22,820.66 670.06,812.07 710.96,752.28 832.09,787.79 910.86,723.71" fill="#000000" fill-opacity="0.275" stroke="#000000" stroke-opacity="0.275" stroke-width="1.4"/>
<polygon points="878.28,624 851.61,545.85 840.74,452.95 776.98,381.38 717.03,169.58 600.14,415.5 522.92,426.59 388.5,415.57 269.56,490.3 253.5,624 352.23,727.61 408.55,815.61 412.48,1012.7 584.04,923.77 650.2,699.42 840.96,977.44 911.29,854.24 956.64,740.38" fill="#bc40c5" fill-opacity="0.32" stroke="#bc40c5" stroke-opacity="0.32" stroke-width="1.4"/>
<path d="M636.9 624L1145.84 624M636.9 624L1115.14 449.93M636.9 624L1026.77 296.86M636.9 624L891.37 183.25M636.9 624L725.28 122.8M636.9 624L548.52 122.8M636.9 624L382.43 183.25M636.9 624L247.03 296.86M636.9 624L158.66 449.93M636.9 624L127.96 624M636.9 624L158.66 798.07M636.9 624L247.03 951.14M636.9 624L382.43 1064.75M636.9 624L548.52 1125.2M636.9 624L725.28 1125.2M636.9 624L891.37 1064.75M636.9 624L1026.77 951.14M636.9 624L1115.14 798.07" stroke="#b6b6b6" stroke-width="1.3" fill="none"/>
<circle cx="636.9" cy="624" r="96.94" stroke="#b6b6b6" stroke-width="1.3" fill="none"/>
<circle cx="636.9" cy="624" r="193.88" stroke="#b6b6b6" stroke-width="1.3" fill="none"/>
<circle cx="636.9" cy="624" r="290.82" stroke="#b6b6b6" stroke-width="1.3" fill="none"/>
<circle cx="636.9" cy="624" r="387.76" stroke="#b6b6b6" stroke-width="1.3" fill="none"/>
<circle cx="636.9" cy="624" r="484.7" stroke="#b6b6b6" stroke-width="1.3" fill="none"/>
<polygon points="971.34,624 848.24,547.08 872.68,426.16 751.53,425.45 688.33,332.35 604.47,440.08 562.47,495.09 422.29,443.92 408.71,540.95 409.09,624 368.63,721.64 450.69,780.25 515.72,833.88 596.08,855.51 668.26,801.86 725.6,777.63 914.45,856.89 915.65,725.46" fill="none" stroke="#54c4cb" stroke-width="1.75" stroke-linejoin="round"/>
<circle cx="971.34" cy="624" r="5.65" fill="#54c4cb"/>
<circle cx="848.24" cy="547.08" r="5.65" fill="#54c4cb"/>
<circle cx="872.68" cy="426.16" r="5.65" fill="#54c4cb"/>
<circle cx="751.53" cy="425.45" r="5.65" fill="#54c4cb"/>
<circle cx="688.33" cy="332.35" r="5.65" fill="#54c4cb"/>
<circle cx="604.47" cy="440.08" r="5.65" fill="#54c4cb"/>
<circle cx="562.47" cy="495.09" r="5.65" fill="#54c4cb"/>
<circle cx="422.29" cy="443.92" r="5.65" fill="#54c4cb"/>
<circle cx="408.71" cy="540.95" r="5.65" fill="#54c4cb"/>
<circle cx="409.09" cy="624" r="5.65" fill="#54c4cb"/>
<circle cx="368.63" cy="721.64" r="5.65" fill="#54c4cb"/>
<circle cx="450.69" cy="780.25" r="5.65" fill="#54c4cb"/>
<circle cx="515.72" cy="833.88" r="5.65" fill="#54c4cb"/>
<circle cx="596.08" cy="855.51" r="5.65" fill="#54c4cb"/>
<circle cx="668.26" cy="801.86" r="5.65" fill="#54c4cb"/>
<circle cx="725.6" cy="777.63" r="5.65" fill="#54c4cb"/>
<circle cx="914.45" cy="856.89" r="5.65" fill="#54c4cb"/>
<circle cx="915.65" cy="725.46" r="5.65" fill="#54c4cb"/>
<polygon points="971.34,624 1007.2,489.22 865.62,432.08 774.8,385.16 705.13,237.07 592.82,374.02 493.67,375.92 407.81,431.77 350.41,519.73 290.48,624 356.79,725.95 340.6,872.62 422.66,995.07 600.03,833.07 672.12,823.77 766.07,847.73 929.49,869.51 961.88,742.28" fill="none" stroke="#c9c13c" stroke-width="1.75" stroke-linejoin="round"/>
<circle cx="971.34" cy="624" r="5.65" fill="#c9c13c"/>
<circle cx="1007.2" cy="489.22" r="5.65" fill="#c9c13c"/>
<circle cx="865.62" cy="432.08" r="5.65" fill="#c9c13c"/>
<circle cx="774.8" cy="385.16" r="5.65" fill="#c9c13c"/>
<circle cx="705.13" cy="237.07" r="5.65" fill="#c9c13c"/>
<circle cx="592.82" cy="374.02" r="5.65" fill="#c9c13c"/>
<circle cx="493.67" cy="375.92" r="5.65" fill="#c9c13c"/>
<circle cx="407.81" cy="431.77" r="5.65" fill="#c9c13c"/>
<circle cx="350.41" cy="519.73" r="5.65" fill="#c9c13c"/>
<circle cx="290.48" cy="624" r="5.65" fill="#c9c13c"/>
<circle cx="356.79" cy="725.95" r="5.65" fill="#c9c13c"/>
<circle cx="340.6" cy="872.62" r="5.65" fill="#c9c13c"/>
<circle cx="422.66" cy="995.07" r="5.65" fill="#c9c13c"/>
<circle cx="600.03" cy="833.07" r="5.65" fill="#c9c13c"/>
<circle cx="672.12" cy="823.77" r="5.65" fill="#c9c13c"/>
<circle cx="766.07" cy="847.73" r="5.65" fill="#c9c13c"/>
<circle cx="929.49" cy="869.51" r="5.65" fill="#c9c13c"/>
<circle cx="961.88" cy="742.28" r="5.65" fill="#c9c13c"/>
<polygon points="971.83,624 1000.59,491.63 823.07,467.78 726.08,469.53 692.62,308 611.94,482.42 558.35,487.95 434.91,454.51 393.68,535.47 377.68,624 362.71,723.8 431.68,796.2 515.48,834.3 602.22,820.66 670.06,812.07 710.96,752.28 832.09,787.79 910.86,723.71" fill="none" stroke="#000000" stroke-width="1.75" stroke-linejoin="round"/>
<circle cx="971.83" cy="624" r="5.65" fill="#000000"/>
<circle cx="1000.59" cy="491.63" r="5.65" fill="#000000"/>
<circle cx="823.07" cy="467.78" r="5.65" fill="#000000"/>
<circle cx="726.08" cy="469.53" r="5.65" fill="#000000"/>
<circle cx="692.62" cy="308" r="5.65" fill="#000000"/>
<circle cx="611.94" cy="482.42" r="5.65" fill="#000000"/>
<circle cx="558.35" cy="487.95" r="5.65" fill="#000000"/>
<circle cx="434.91" cy="454.51" r="5.65" fill="#000000"/>
<circle cx="393.68" cy="535.47" r="5.65" fill="#000000"/>
<circle cx="377.68" cy="624" r="5.65" fill="#000000"/>
<circle cx="362.71" cy="723.8" r="5.65" fill="#000000"/>
<circle cx="431.68" cy="796.2" r="5.65" fill="#000000"/>
<circle cx="515.48" cy="834.3" r="5.65" fill="#000000"/>
<circle cx="602.22" cy="820.66" r="5.65" fill="#000000"/>
<circle cx="670.06" cy="812.07" r="5.65" fill="#000000"/>
<circle cx="710.96" cy="752.28" r="5.65" fill="#000000"/>
<circle cx="832.09" cy="787.79" r="5.65" fill="#000000"/>
<circle cx="910.86" cy="723.71" r="5.65" fill="#000000"/>
<polygon points="878.28,624 851.61,545.85 840.74,452.95 776.98,381.38 717.03,169.58 600.14,415.5 522.92,426.59 388.5,415.57 269.56,490.3 253.5,624 352.23,727.61 408.55,815.61 412.48,1012.7 584.04,923.77 650.2,699.42 840.96,977.44 911.29,854.24 956.64,740.38" fill="none" stroke="#bc40c5" stroke-width="1.75" stroke-linejoin="round"/>
<circle cx="878.28" cy="624" r="5.65" fill="#bc40c5"/>
<circle cx="851.61" cy="545.85" r="5.65" fill="#bc40c5"/>
<circle cx="840.74" cy="452.95" r="5.65" fill="#bc40c5"/>
<circle cx="776.98" cy="381.38" r="5.65" fill="#bc40c5"/>
<circle cx="717.03" cy="169.58" r="5.65" fill="#bc40c5"/>
<circle cx="600.14" cy="415.5" r="5.65" fill="#bc40c5"/>
<circle cx="522.92" cy="426.59" r="5.65" fill="#bc40c5"/>
<circle cx="388.5" cy="415.57" r="5.65" fill="#bc40c5"/>
<circle cx="269.56" cy="490.3" r="5.65" fill="#bc40c5"/>
<circle cx="253.5" cy="624" r="5.65" fill="#bc40c5"/>
<circle cx="352.23" cy="727.61" r="5.65" fill="#bc40c5"/>
<circle cx="408.55" cy="815.61" r="5.65" fill="#bc40c5"/>
<circle cx="412.48" cy="1012.7" r="5.65" fill="#bc40c5"/>
<circle cx="584.04" cy="923.77" r="5.65" fill="#bc40c5"/>
<circle cx="650.2" cy="699.42" r="5.65" fill="#bc40c5"/>
<circle cx="840.96" cy="977.44" r="5.65" fill="#bc40c5"/>
<circle cx="911.29" cy="854.24" r="5.65" fill="#bc40c5"/>
<circle cx="956.64" cy="740.38" r="5.65" fill="#bc40c5"/>
<circle cx="636.9" cy="624" r="508.94" stroke="#000" stroke-width="1.3" fill="none"/>
<text x="740.2" y="583.3" text-anchor="middle" font-size="18.7" textLength="25.8" lengthAdjust="spacingAndGlyphs" class="r">0.2</text>
<text x="829.65" y="546.2" text-anchor="middle" font-size="18.7" textLength="25.8" lengthAdjust="spacingAndGlyphs" class="r">0.4</text>
<text x="919.05" y="508.8" text-anchor="middle" font-size="18.7" textLength="25.8" lengthAdjust="spacingAndGlyphs" class="r">0.6</text>
<text x="1008.85" y="471.7" text-anchor="middle" font-size="18.7" textLength="25.8" lengthAdjust="spacingAndGlyphs" class="r">0.8</text>
<text x="1098.25" y="435" text-anchor="middle" font-size="18.7" textLength="25.8" lengthAdjust="spacingAndGlyphs" class="r">1.0</text>
<text transform="translate(1132.18 628.9) scale(0.9368 1)" font-size="21.6" class="b">AFQMC</text>
<text transform="translate(1113.72 447) scale(0.9195 1)" font-size="21.6" class="b">CHID</text>
<text transform="translate(1027.87 286.2) scale(0.9126 1)" font-size="21.6" class="b">Wic</text>
<text transform="translate(880.53 167.2) scale(0.9104 1)" font-size="21.6" class="b">WSC</text>
<text transform="translate(701.26 104.2) scale(0.9259 1)" font-size="21.6" class="b">COPA</text>
<text transform="translate(512.88 104.2) scale(0.9376 1)" font-size="21.6" class="b">CMNLI</text>
<text transform="translate(339.58 167.6) scale(0.9411 1)" font-size="21.6" class="b">OCNLI</text>
<text transform="translate(205.64 286.8) scale(0.9402 1)" font-size="21.6" class="b">AX-b</text>
<text transform="translate(113.04 446.8) scale(0.9574 1)" font-size="21.6" class="b">AX-g</text>
<text transform="translate(84.05 629) scale(0.9254 1)" font-size="21.6" class="b">RTE</text>
<text transform="translate(116.88 811.4) scale(0.9143 1)" font-size="21.6" class="b">CSL</text>
<text transform="translate(216.91 971.6) scale(0.9114 1)" font-size="21.6" class="b">C3</text>
<text transform="translate(322.14 1090.6) scale(0.9187 1)" font-size="21.6" class="b">EPRSTMT</text>
<text transform="translate(514.54 1153.9) scale(0.9293 1)" font-size="21.6" class="b">MMLU</text>
<text transform="translate(698.58 1153.9) scale(0.9305 1)" font-size="21.6" class="b">C-Eval</text>
<text transform="translate(873.12 1090.6) scale(0.9259 1)" font-size="21.6" class="b">ARC-c</text>
<text transform="translate(990.08 971.7) scale(0.9408 1)" font-size="21.6" class="b">HumanEval</text>
<text transform="translate(1108.85 810.9) scale(0.9195 1)" font-size="21.6" class="b">MBPP</text>
<text transform="translate(972.9 430.6) rotate(-15)" x="0" y="5.2" text-anchor="middle" font-size="21.3" textLength="99.5" lengthAdjust="spacingAndGlyphs" fill="#8c8c8c" class="r">Language</text>
<text transform="translate(356.6 290.6) rotate(-45)" x="0" y="5.2" text-anchor="middle" font-size="21.3" textLength="105" lengthAdjust="spacingAndGlyphs" fill="#8c8c8c" class="r">Reasoning</text>
<text transform="translate(414.4 811.8) rotate(-60)" x="0" y="5.2" text-anchor="middle" font-size="21.3" textLength="149" lengthAdjust="spacingAndGlyphs" fill="#000" class="r">Understanding</text>
<text transform="translate(686.6 912.2) rotate(-80)" x="0" y="7.4" text-anchor="middle" font-size="21.3" textLength="125.5" lengthAdjust="spacingAndGlyphs" fill="#000" class="r">Examination</text>
<text transform="translate(973.6 818.8) rotate(-80)" x="0" y="5.2" text-anchor="middle" font-size="21.3" textLength="70.3" lengthAdjust="spacingAndGlyphs" fill="#000" class="r">Coding</text>
<rect x="1207" y="21.6" width="287.6" height="107.4" rx="3.5" ry="3.5" fill="#fff" fill-opacity="0.8" stroke="#cccccc" stroke-width="1.1"/>
<path d="M1212.7 36H1249" stroke="#54c4cb" stroke-width="1.7"/>
<circle cx="1230.7" cy="36" r="5.9" fill="#54c4cb"/>
<text x="1260.8" y="41.4" font-size="18.6" textLength="221" lengthAdjust="spacingAndGlyphs" class="r">CodeFuse-CodeLlama-34b</text>
<path d="M1212.7 61.6H1249" stroke="#c9c13c" stroke-width="1.7"/>
<circle cx="1230.7" cy="61.6" r="5.9" fill="#c9c13c"/>
<text x="1260.8" y="67.1" font-size="18.6" textLength="212" lengthAdjust="spacingAndGlyphs" class="r">CodeFuse-DeepSeek-33b</text>
<path d="M1212.7 87.3H1249" stroke="#000000" stroke-width="1.7"/>
<circle cx="1230.7" cy="87.3" r="5.9" fill="#000000"/>
<text x="1261.8" y="92.8" font-size="18.6" textLength="225.4" lengthAdjust="spacingAndGlyphs" class="r">DeepSeek-Coder-33b-base</text>
<path d="M1212.7 113H1249" stroke="#bc40c5" stroke-width="1.7"/>
<circle cx="1230.7" cy="113" r="5.9" fill="#bc40c5"/>
<text x="1261.8" y="118.4" font-size="18.6" textLength="169.4" lengthAdjust="spacingAndGlyphs" class="r">DeepSeek-67b-Chat</text>
</svg>
</body></html>
